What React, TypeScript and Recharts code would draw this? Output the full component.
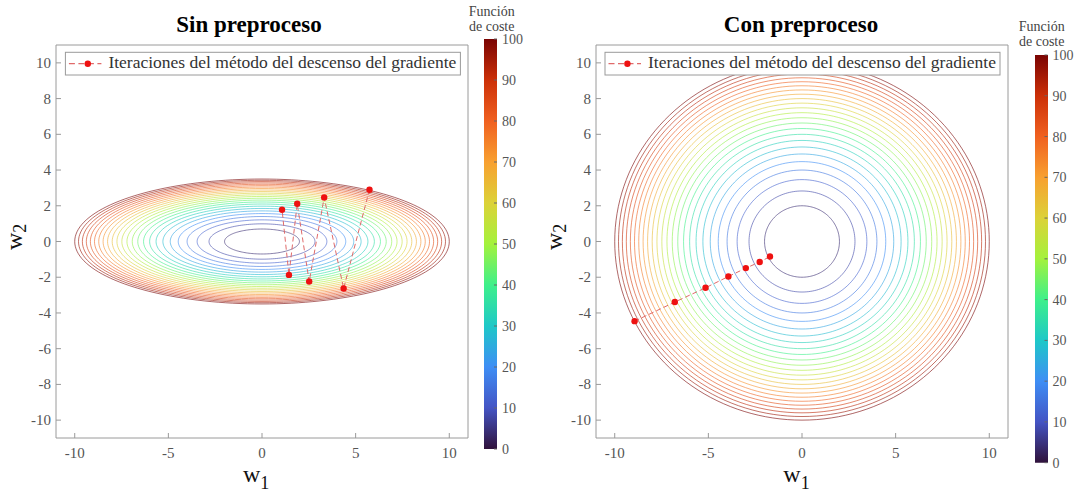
import React from 'react';
import { ScatterChart, Scatter, XAxis, YAxis, BarChart, Bar } from 'recharts';

// ---- data ----
const LEVELS = [4, 8, 12, 16, 20, 24, 28, 32, 36, 40, 44, 48, 52, 56, 60, 64, 68, 72, 76, 80, 84, 88, 92, 96, 100];
const X_TICKS = [-10, -5, 0, 5, 10];
const Y_TICKS = [-10, -8, -6, -4, -2, 0, 2, 4, 6, 8, 10];
const CBAR_TICKS = [0, 10, 20, 30, 40, 50, 60, 70, 80, 90, 100];
const LEFT_W2_SCALE = 2.86; // cost = w1^2 + (2.86*w2)^2
const RIGHT_W2_SCALE = 1; // cost = w1^2 + w2^2
const LEFT_PATH_W1 = [5.74, 4.36, 3.32, 2.52, 1.88, 1.44, 1.07];
const LEFT_PATH_W2 = [2.9, -2.63, 2.46, -2.24, 2.11, -1.87, 1.78];
const RIGHT_PATH_W1 = [-8.94, -6.79, -5.15, -3.93, -3.0, -2.26, -1.71];
const RIGHT_PATH_W2 = [-4.46, -3.39, -2.59, -1.96, -1.49, -1.15, -0.84];
const TURBO = ['#30123b', '#4454c4', '#3e8ef5', '#1ec8c8', '#3ef08a', '#a4f23c', '#dcd238', '#f8a030', '#f06020', '#cc3008', '#7a0403'];
const TITLE_LEFT = 'Sin preproceso';
const TITLE_RIGHT = 'Con preproceso';
const LEGEND_TEXT = 'Iteraciones del método del descenso del gradiente';
const CBAR_TITLE = ['Función', 'de coste'];

const SERIF = "'Liberation Serif', 'Times New Roman', serif";
const ANGLE_STEPS = 160;

function hexToRgb(h: string) {
  return [parseInt(h.slice(1, 3), 16), parseInt(h.slice(3, 5), 16), parseInt(h.slice(5, 7), 16)];
}
function turbo(t: number) {
  const tt = Math.max(0, Math.min(1, t)) * (TURBO.length - 1);
  const i = Math.min(TURBO.length - 2, Math.floor(tt));
  const f = tt - i;
  const a = hexToRgb(TURBO[i]);
  const b = hexToRgb(TURBO[i + 1]);
  const c = a.map((v, k) => Math.round(v + (b[k] - v) * f));
  return `rgb(${c[0]},${c[1]},${c[2]})`;
}

// level set of the cost function: w1^2 + (s*w2)^2 = level
function contour(level: number, s: number) {
  const r = Math.sqrt(level);
  const pts: { x: number; y: number }[] = [];
  for (let k = 0; k <= ANGLE_STEPS; k++) {
    const a = (2 * Math.PI * k) / ANGLE_STEPS;
    pts.push({ x: r * Math.cos(a), y: (r / s) * Math.sin(a) });
  }
  return pts;
}

const EmptyShape = () => <g />;
const RedDot = (p: any) => <circle cx={p.cx} cy={p.cy} r={3.2} fill="#ee1111" />;

const AXIS_COLOR = '#9a9a9a';

function makeTick(anchor: 'middle' | 'end' | 'start', dy: number, size: number) {
  return (p: any) => (
    <text
      x={p.x}
      y={p.y}
      dy={dy}
      textAnchor={anchor}
      fontSize={size}
      fill="#555"
      fontFamily={SERIF}
    >
      {p.payload.value}
    </text>
  );
}
const BottomTick = makeTick('middle', 10.5, 15);
const LeftTick = makeTick('end', 5, 15);
const CbarTick = makeTick('start', 5, 14);

function Panel({ left, s, pw1, pw2 }: { left: number; s: number; pw1: number[]; pw2: number[] }) {
  const path = pw1.map((x, i) => ({ x, y: pw2[i] }));
  return (
    <div style={{ position: 'absolute', left, top: 0 }}>
      <ScatterChart width={540} height={495} margin={{ top: 44, right: 71, bottom: 27, left: 6 }}>
        <XAxis
          type="number"
          dataKey="x"
          domain={[-11, 11]}
          ticks={X_TICKS}
          interval={0}
          allowDataOverflow
          height={30}
          tickSize={-5}
          tickMargin={14}
          stroke={AXIS_COLOR}
          tick={BottomTick}
        />
        <XAxis
          xAxisId="top"
          orientation="top"
          type="number"
          dataKey="x"
          domain={[-11, 11]}
          ticks={X_TICKS}
          interval={0}
          allowDataOverflow
          height={1}
          tickSize={-5}
          tick={false}
          stroke={AXIS_COLOR}
        />
        <YAxis
          type="number"
          dataKey="y"
          domain={[-11, 11]}
          ticks={Y_TICKS}
          interval={0}
          allowDataOverflow
          width={50}
          tickSize={-5}
          tickMargin={10}
          stroke={AXIS_COLOR}
          tick={LeftTick}
        />
        <YAxis
          yAxisId="right"
          orientation="right"
          type="number"
          dataKey="y"
          domain={[-11, 11]}
          ticks={Y_TICKS}
          interval={0}
          allowDataOverflow
          width={1}
          tickSize={-5}
          tick={false}
          stroke={AXIS_COLOR}
        />
        {LEVELS.map((L) => {
          const c = turbo(L / 100);
          return (
            <Scatter
              key={L}
              data={contour(L, s)}
              fill={c}
              line={{ stroke: c, strokeWidth: 0.75, strokeOpacity: 0.8 }}
              lineType="joint"
              shape={EmptyShape}
              isAnimationActive={false}
            />
          );
        })}
        <Scatter
          data={path}
          fill="#ee1111"
          line={{ stroke: '#e06a6a', strokeWidth: 1, strokeDasharray: '5 3' }}
          lineType="joint"
          shape={RedDot}
          isAnimationActive={false}
        />
      </ScatterChart>
    </div>
  );
}

function ColorBar({ left, top, width, height, id }: { left: number; top: number; width: number; height: number; id: string }) {
  const data = [{ name: 'c', v: 100 }];
  return (
    <div style={{ position: 'absolute', left, top: top - 8 }}>
      <BarChart width={width + 40} height={height + 16} data={data} margin={{ top: 8, bottom: 8, left: 0, right: 0 }} barCategoryGap={0}>
        <defs>
          <linearGradient id={id} x1="0" y1="1" x2="0" y2="0">
            {TURBO.map((c, i) => (
              <stop key={i} offset={`${(i / (TURBO.length - 1)) * 100}%`} stopColor={c} />
            ))}
          </linearGradient>
        </defs>
        <XAxis dataKey="name" hide />
        <YAxis
          orientation="right"
          type="number"
          domain={[0, 100]}
          ticks={CBAR_TICKS}
          interval={0}
          width={40}
          axisLine={false}
          tickSize={-3}
          tickMargin={8}
          tickLine={{ stroke: '#666' }}
          tick={CbarTick}
        />
        <Bar dataKey="v" fill={`url(#${id})`} isAnimationActive={false} />
      </BarChart>
    </div>
  );
}

function Legend({ x, y }: { x: number; y: number }) {
  return (
    <g>
      <rect x={x} y={y} width={395} height={22.7} fill="#fff" stroke="#9a9a9a" strokeWidth={1} />
      <line x1={x + 3.5} y1={y + 11.4} x2={x + 36} y2={y + 11.4} stroke="#e06a6a" strokeWidth={1.2} strokeDasharray="6 3.5" />
      <circle cx={x + 22.4} cy={y + 11.4} r={3.2} fill="#ee1111" />
      <text x={x + 43} y={y + 16} fontSize={17.5} fill="#333" fontFamily={SERIF}>
        {LEGEND_TEXT}
      </text>
    </g>
  );
}

function Overlay() {
  return (
    <svg width={1077} height={495} style={{ position: 'absolute', left: 0, top: 0, pointerEvents: 'none' }}>
      <text x={249} y={32} textAnchor="middle" fontSize={23} fontWeight="bold" fill="#000" fontFamily={SERIF}>
        {TITLE_LEFT}
      </text>
      <text x={801} y={32} textAnchor="middle" fontSize={23} fontWeight="bold" fill="#000" fontFamily={SERIF}>
        {TITLE_RIGHT}
      </text>
      <Legend x={65.4} y={52.3} />
      <Legend x={605} y={52.3} />
      {/* colorbar titles */}
      <text x={491.7} y={15.5} textAnchor="middle" fontSize={14} fill="#444" fontFamily={SERIF}>{CBAR_TITLE[0]}</text>
      <text x={491.7} y={30.7} textAnchor="middle" fontSize={14} fill="#444" fontFamily={SERIF}>{CBAR_TITLE[1]}</text>
      <text x={1041.7} y={31} textAnchor="middle" fontSize={14} fill="#444" fontFamily={SERIF}>{CBAR_TITLE[0]}</text>
      <text x={1041.7} y={46} textAnchor="middle" fontSize={14} fill="#444" fontFamily={SERIF}>{CBAR_TITLE[1]}</text>
      {/* axis labels */}
      <text x={243} y={481.7} fontSize={24} fill="#111" fontFamily={SERIF}>
        w<tspan fontSize={18} dy={7}>1</tspan>
      </text>
      <text x={783.3} y={481.7} fontSize={24} fill="#111" fontFamily={SERIF}>
        w<tspan fontSize={18} dy={7}>1</tspan>
      </text>
      <text x={22} y={250} fontSize={24} fill="#111" fontFamily={SERIF} transform="rotate(-90 22 250)">
        w<tspan fontSize={18} dy={4}>2</tspan>
      </text>
      <text x={561.7} y={250} fontSize={24} fill="#111" fontFamily={SERIF} transform="rotate(-90 561.7 250)">
        w<tspan fontSize={18} dy={4}>2</tspan>
      </text>
    </svg>
  );
}

export default function App() {
  return (
    <div style={{ position: 'absolute', left: 0, top: 0, width: 1077, height: 495, background: '#fff', fontFamily: SERIF }}>
      <Panel left={0} s={LEFT_W2_SCALE} pw1={LEFT_PATH_W1} pw2={LEFT_PATH_W2} />
      <Panel left={540} s={RIGHT_W2_SCALE} pw1={RIGHT_PATH_W1} pw2={RIGHT_PATH_W2} />
      <ColorBar left={484} top={39.3} width={13} height={410} id="turboL" />
      <ColorBar left={1035} top={55} width={12.5} height={407.7} id="turboR" />
      <Overlay />
    </div>
  );
}
